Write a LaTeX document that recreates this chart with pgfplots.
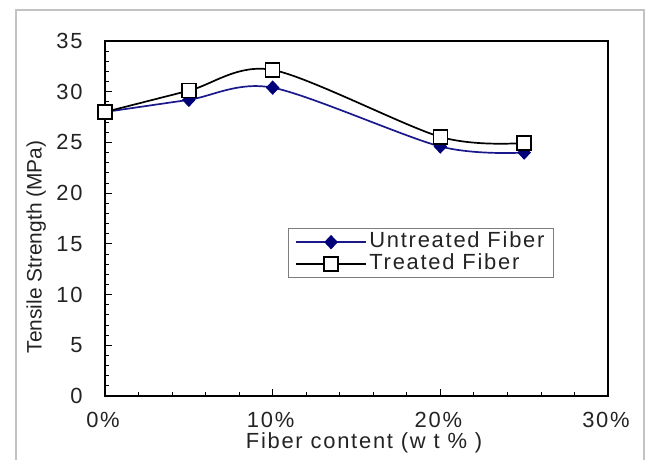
\documentclass[border=0pt]{standalone}
\usepackage{fontspec}
\setmainfont{Liberation Sans}[LetterSpace=8]
\newfontfamily\plainfont{Liberation Sans}
\usepackage{pgfplots}
\pgfplotsset{compat=1.18}
\definecolor{navy}{RGB}{25,25,140}
\definecolor{navymark}{RGB}{0,0,120}
\definecolor{framegray}{RGB}{195,195,195}
\definecolor{leggray}{RGB}{125,125,125}
\definecolor{txt}{RGB}{35,35,35}
\begin{document}
\begin{tikzpicture}
\draw[framegray, line width=1.5bp] (16bp,0bp) -- (16bp,450bp) -- (644bp,450bp) -- (644bp,0bp);
\begin{axis}[
  at={(105bp,64bp)}, anchor=south west,
  scale only axis, width=503bp, height=355bp,
  xmin=0, xmax=30, ymin=0, ymax=35,
  xtick={0,10,20,30}, xticklabels={0\%,10\%,20\%,30\%},
  ytick={0,5,...,35},
  minor x tick num=4, minor y tick num=4,
  tick align=inside, tick pos=left,
  major tick length=7bp, minor tick length=4bp,
  axis line style={line width=1.4bp},
  tick style={black, line width=0.8bp},
  ticklabel style={font=\fontsize{22}{26}\selectfont, text=txt},
  /pgf/number format/assume math mode=true,
  yticklabel style={xshift=-19bp},
  xticklabel style={yshift=-13bp, xshift=-2bp},
  xlabel={Fiber content (w t \% )},
  ylabel={Tensile Strength (MPa)},
  xlabel style={at={(axis description cs:0.515,0)}, anchor=center, yshift=-47bp, text=txt, font=\fontsize{22}{26}\selectfont},
  ylabel style={at={(axis description cs:-0.137,0.42)}, anchor=center, text=txt, font=\plainfont\fontsize{21}{24}\selectfont},
  legend style={at={(0.3632,0.4738)}, anchor=north west, draw=leggray, line width=1bp,
    font=\fontsize{22}{22}\selectfont, text=txt, row sep=0bp, column sep=0bp,
    inner ysep=3bp, inner xsep=7bp,
    nodes={inner ysep=0bp, inner xsep=2.5bp, text height=16.5bp, text depth=5.2bp}},
  legend cell align=left,
  legend image code/.code={%
    \draw[#1, mark=none] (0bp,0bp) -- (70bp,0bp);
    \path[#1, only marks] plot coordinates {(35bp,0bp)};},
]
\addplot[smooth, color=navy, line width=1.7bp, mark=diamond*, mark size=6bp,
  mark options={xscale=1.25, solid, fill=navymark, draw=navymark}]
  coordinates {(0,28.0) (5,29.2) (10,30.4) (20,24.6) (25,24.0)};
\addlegendentry{Untreated Fiber}
\addplot[smooth, color=black, line width=1.7bp, mark=square*, mark size=7bp,
  mark options={fill=white, draw=black, line width=1.6bp}]
  coordinates {(0,28.0) (5,30.1) (10,32.15) (20,25.55) (25,24.95)};
\addlegendentry{Treated Fiber}
\end{axis}
\pgfresetboundingbox
\path[use as bounding box] (0bp,0bp) rectangle (647bp,460bp);
\end{tikzpicture}
\end{document}
